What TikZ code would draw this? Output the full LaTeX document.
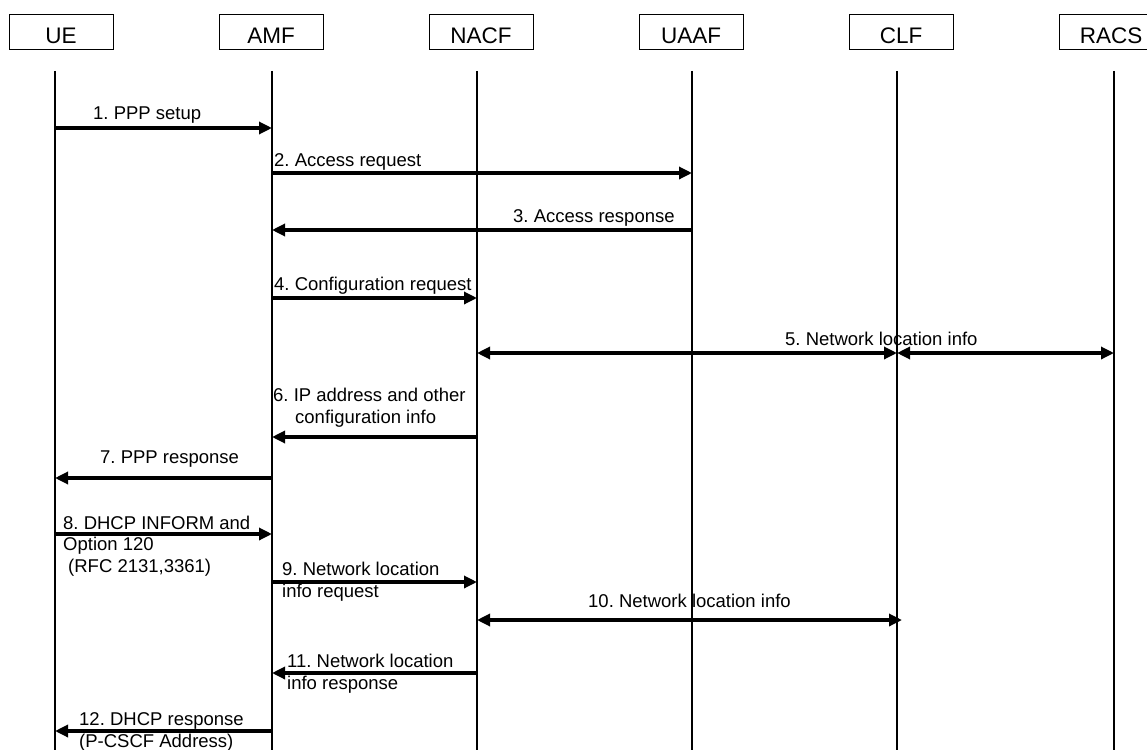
\documentclass[tikz,border=0pt]{standalone}
\usepackage{fontspec}
\setmainfont{Liberation Sans}
\usetikzlibrary{arrows.meta}
\usetikzlibrary{positioning}
\frenchspacing

\begin{document}
\begin{tikzpicture}[x=1pt,y=-1pt,
	entity/.style={draw,line width=1pt,minimum width=104pt,minimum height=35pt,inner sep=0pt,text height=23pt,font=\fontsize{22.5}{27}\selectfont},
	life/.style={line width=1.4pt},
	msg/.style={line width=3.2pt,-{Triangle[length=13pt,width=12pt]}},
	msgboth/.style={line width=3.2pt,{Triangle[length=13pt,width=12pt]}-{Triangle[length=13pt,width=12pt]}},
	lbl/.style={inner sep=0pt,anchor=base west,align=left,font=\fontsize{18.5}{21.5}\selectfont}]
			\useasboundingbox (0,0) rectangle (1147,749);
			
			%entities
			\node[entity] (ue) at (61,32.5) {UE};
			\node[entity,right=105pt of ue] (amf) {AMF};
			\node[entity,right=105pt of amf] (nacf) {NACF};
			\node[entity,right=105pt of nacf] (uaaf) {UAAF};
			\node[entity,right=105pt of uaaf] (clf) {CLF};
			\node[entity,right=105pt of clf] (racs) {RACS};
			
			%lifelines
			\foreach \n/\x in {ue/55,amf/272,nacf/477,uaaf/692,clf/897,racs/1114}{
				\coordinate (\n0) at (\x,71);
				\coordinate (\n1) at (\x,755);
				\draw[life] (\n0) -- (\n1);
			}
			
			%rows of the messages
			\foreach \i/\y in {1/128,2/173,3/230,4/298,5/353,6/437,7/478,8/534,9/582,10/620,11/673,12/731}
				\coordinate (r\i) at (0,\y);
			
			% add arrows
			\draw[msg] (ue0 |- r1) -- (amf0 |- r1);
			\draw[msg] (amf0 |- r2) -- (uaaf0 |- r2);
			\draw[msg] (uaaf0 |- r3) -- (amf0 |- r3);
			\draw[msg] (amf0 |- r4) -- (nacf0 |- r4);
			\draw[msgboth] (nacf0 |- r5) -- (clf0 |- r5);
			\draw[msgboth] (clf0 |- r5) -- (racs0 |- r5);
			\draw[msg] (nacf0 |- r6) -- (amf0 |- r6);
			\draw[msg] (amf0 |- r7) -- (ue0 |- r7);
			\draw[msg] (ue0 |- r8) -- (amf0 |- r8);
			\draw[msg] (amf0 |- r9) -- (nacf0 |- r9);
			\draw[msgboth,shorten >=-5pt] (nacf0 |- r10) -- (clf0 |- r10);
			\draw[msg] (nacf0 |- r11) -- (amf0 |- r11);
			\draw[msg] (amf0 |- r12) -- (ue0 |- r12);
			
			% labels (multi-line ones sit on their last line)
			\node[lbl] (l1) at (93,120) {1. PPP setup};
			\node[lbl] (l2) at (274,166) {2. Access request};
			\node[lbl] (l3) at (513,222) {3. Access response};
			\node[lbl] (l4) at (274,290) {4. Configuration request};
			\node[lbl] (l5) at (785,345) {5. Network location info};
			\node[lbl] (l6) at (273,423) {6. IP address and other\\\hspace{22pt}configuration info};
			\node[lbl] (l7) at (100,463) {7. PPP response};
			\node[lbl] (l8) at (63,572) {8. DHCP INFORM and\\Option 120\\\hspace{5pt}(RFC 2131,3361)};
			\node[lbl] (l9) at (282,597) {9. Network location\\info request};
			\node[lbl] (l10) at (588,607) {10. Network location info};
			\node[lbl] (l11) at (287,689) {11. Network location\\info response};
			\node[lbl] (l12) at (79,747) {12. DHCP response\\(P-CSCF Address)};
			
		\end{tikzpicture}
\end{document}
